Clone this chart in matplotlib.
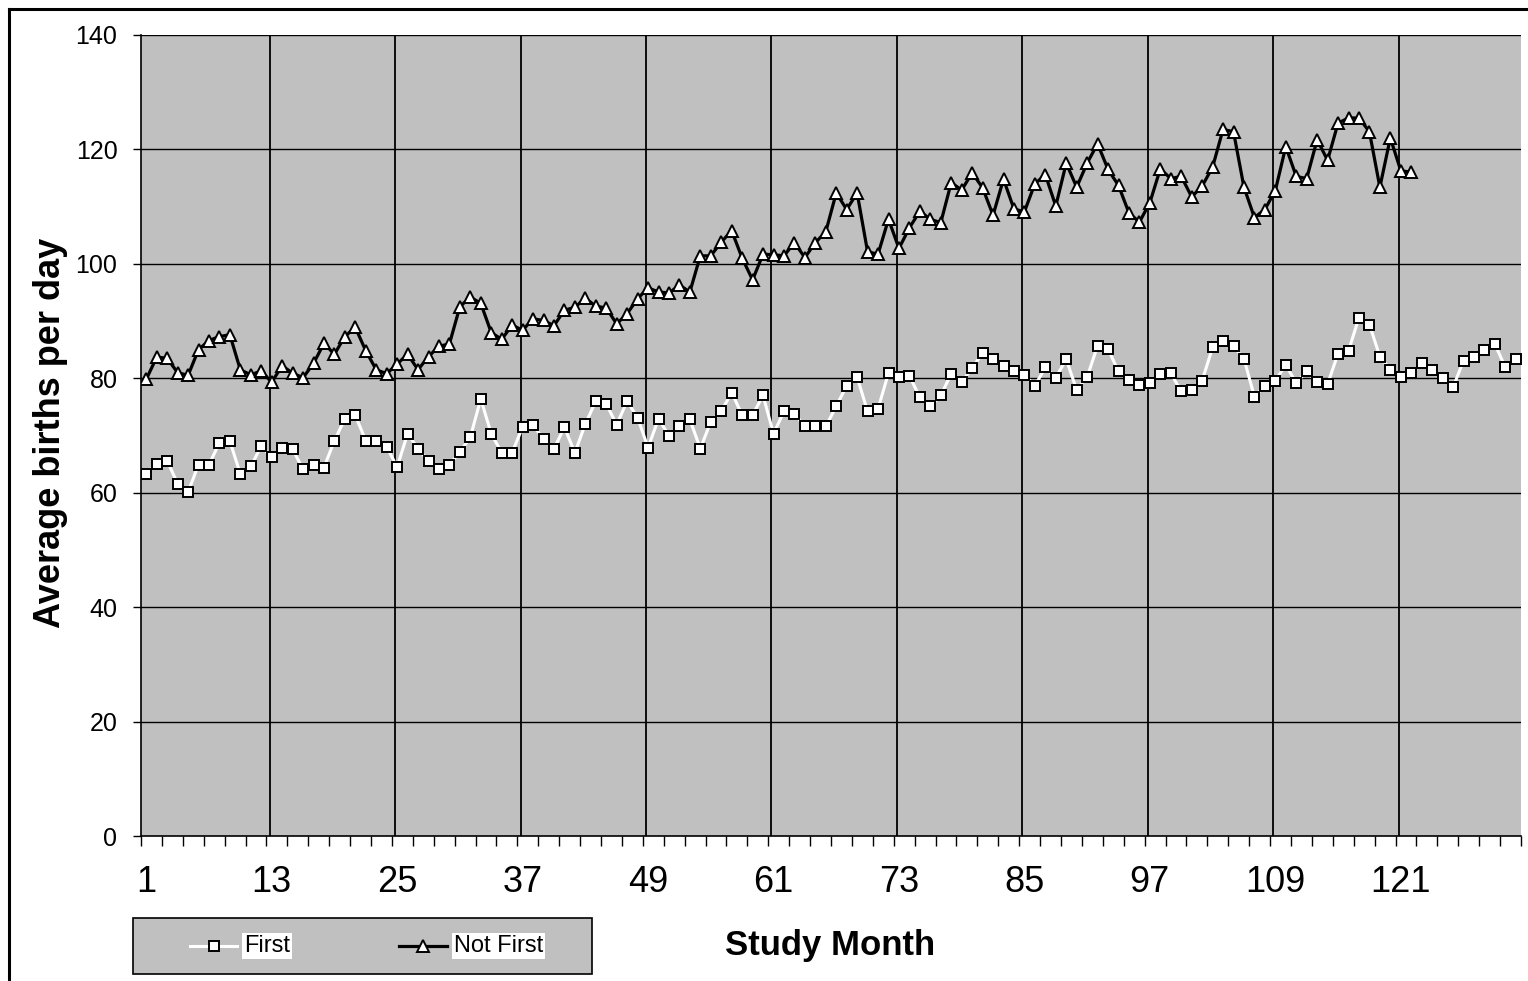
import matplotlib
matplotlib.use("Agg")
import matplotlib.pyplot as plt
from matplotlib.lines import Line2D
from matplotlib.patches import Rectangle

plt.rcParams['font.family'] = ['Liberation Sans', 'DejaVu Sans']

# average births per day by study month
first = [
    63.3, 65.1, 65.6, 61.6, 60.1, 64.9, 64.9, 68.7, 69.0, 63.3, 64.6, 68.1,
    66.2, 67.8, 67.6, 64.1, 64.9, 64.4, 69.1, 72.9, 73.5, 69.1, 69.0, 68.0,
    64.5, 70.3, 67.7, 65.5, 64.2, 64.9, 67.1, 69.7, 76.4, 70.3, 67.0, 67.0,
    71.5, 71.8, 69.4, 67.7, 71.4, 67.0, 72.0, 76.0, 75.5, 71.9, 76.0, 73.1,
    67.9, 72.9, 70.0, 71.6, 72.8, 67.7, 72.4, 74.2, 77.5, 73.6, 73.6, 77.0,
    70.3, 74.2, 73.8, 71.6, 71.7, 71.6, 75.1, 78.7, 80.2, 74.2, 74.7, 80.9,
    80.3, 80.4, 76.7, 75.1, 77.0, 80.8, 79.3, 81.8, 84.4, 83.4, 82.2, 81.3,
    80.6, 78.7, 81.9, 80.1, 83.3, 78.0, 80.2, 85.7, 85.1, 81.2, 79.7, 78.8,
    79.2, 80.8, 80.9, 77.7, 77.9, 79.6, 85.4, 86.6, 85.6, 83.4, 76.8, 78.7,
    79.6, 82.3, 79.2, 81.2, 79.3, 79.0, 84.3, 84.8, 90.6, 89.4, 83.8, 81.5,
    80.3, 80.9, 82.6, 81.5, 80.0, 78.4, 83.1, 83.7, 84.9, 86.0, 81.9, 83.4,
]
not_first = [
    79.8, 83.7, 83.5, 81.0, 80.5, 85.0, 86.6, 87.3, 87.6, 81.5, 80.6, 81.3,
    79.3, 82.2, 80.9, 80.1, 82.6, 86.1, 84.2, 87.3, 88.9, 84.8, 81.5, 80.8,
    82.5, 84.2, 81.5, 83.8, 85.6, 86.0, 92.5, 94.2, 93.1, 88.0, 86.8, 89.3,
    88.4, 90.4, 90.1, 89.2, 91.9, 92.4, 94.0, 92.6, 92.3, 89.5, 91.3, 93.9,
    95.8, 95.1, 94.9, 96.3, 95.1, 101.4, 101.4, 103.8, 105.8, 101.0, 97.2, 101.7,
    101.6, 101.4, 103.7, 101.1, 103.7, 105.6, 112.4, 109.5, 112.4, 102.1, 101.7, 107.8,
    102.7, 106.3, 109.2, 107.8, 107.2, 114.2, 112.9, 115.9, 113.3, 108.5, 114.8, 109.6,
    109.1, 114.0, 115.6, 110.1, 117.6, 113.4, 117.6, 121.0, 116.5, 113.7, 108.9, 107.3,
    110.7, 116.6, 114.9, 115.3, 111.7, 113.6, 116.9, 123.5, 123.1, 113.4, 108.1, 109.5,
    112.8, 120.5, 115.3, 114.9, 121.7, 118.1, 124.6, 125.5, 125.5, 123.1, 113.4, 122.0,
    116.3, 116.0,
]
months_first = list(range(1, len(first) + 1))
months_not_first = list(range(1, len(not_first) + 1))
month_labels = list(range(1, 122, 12))
y_ticks = list(range(0, 141, 20))

W, H = 1528, 981
fig = plt.figure(figsize=(W / 100, H / 100), dpi=100)
ax = fig.add_axes([141 / W, 1 - 836 / H, 1380 / W, 801 / H])
ax.set_facecolor('#C0C0C0')

ax.plot(months_first, first, color='white', lw=2.2, marker='s', ms=6.6,
        mfc='white', mec='black', mew=1.4, zorder=3)
ax.plot(months_not_first, not_first, color='black', lw=2.3, marker='^', ms=8.2,
        mfc='white', mec='black', mew=1.4, zorder=4)

ax.set_xlim(0.5, len(first) + 0.5)
ax.set_ylim(0, 140)

for y in y_ticks[1:]:
    ax.axhline(y, color='black', lw=1.0, zorder=1)
# the gridline for month 1 sits on the axis itself
for m in month_labels[1:]:
    ax.axvline(m - 0.2, color='black', lw=1.3, zorder=1)

ax.set_yticks(y_ticks)
ax.tick_params(axis='y', direction='out', length=6, width=1, pad=11, labelsize=18)
ax.set_xticks(month_labels)
ax.set_xticks([m - 0.5 for m in range(1, len(first) + 2, 2)], minor=True)
ax.tick_params(axis='x', which='major', length=0, pad=21, labelsize=26)
ax.tick_params(axis='x', which='minor', direction='out', length=7, width=1)

for side in ['top', 'right']:
    ax.spines[side].set_visible(False)
for side in ['left', 'bottom']:
    ax.spines[side].set_linewidth(1.2)

fig.text(51 / W, 1 - 433 / H, 'Average births per day', rotation=90,
         ha='center', va='center', fontsize=26, fontweight='bold')
fig.text(830 / W, 1 - 945 / H, 'Study Month', ha='center', va='center',
         fontsize=25, fontweight='bold')

# legend box drawn by hand in figure pixels
def fx(px):
    return px / W

def fy(py):
    return 1 - py / H

fig.add_artist(Rectangle((fx(133), fy(974)), fx(592) - fx(133), fy(918) - fy(974),
                         transform=fig.transFigure, facecolor='#C0C0C0',
                         edgecolor='black', lw=1.2))
ly = fy(946)
fig.add_artist(Line2D([fx(190), fx(237)], [ly, ly], transform=fig.transFigure,
                      color='white', lw=2.2))
fig.add_artist(Line2D([fx(213.5)], [ly], transform=fig.transFigure, marker='s', ms=6.6,
                      mfc='white', mec='black', mew=1.4, ls='none'))
fig.add_artist(Line2D([fx(399), fx(447)], [ly, ly], transform=fig.transFigure,
                      color='black', lw=2.3))
fig.add_artist(Line2D([fx(423)], [ly], transform=fig.transFigure, marker='^', ms=8.2,
                      mfc='white', mec='black', mew=1.4, ls='none'))
white_box = dict(facecolor='white', edgecolor='none', pad=1.5)
fig.text(fx(244), ly, 'First', ha='left', va='center', fontsize=17, bbox=white_box)
fig.text(fx(454), ly, 'Not First', ha='left', va='center', fontsize=17, bbox=white_box)

# outer chart border (left and top only are visible)
fig.add_artist(Line2D([fx(9), fx(9)], [0, fy(9)], transform=fig.transFigure,
                      color='black', lw=2.2))
fig.add_artist(Line2D([fx(9), 1], [fy(9), fy(9)], transform=fig.transFigure,
                      color='black', lw=2.2))

fig.savefig('out.png', dpi=100)
